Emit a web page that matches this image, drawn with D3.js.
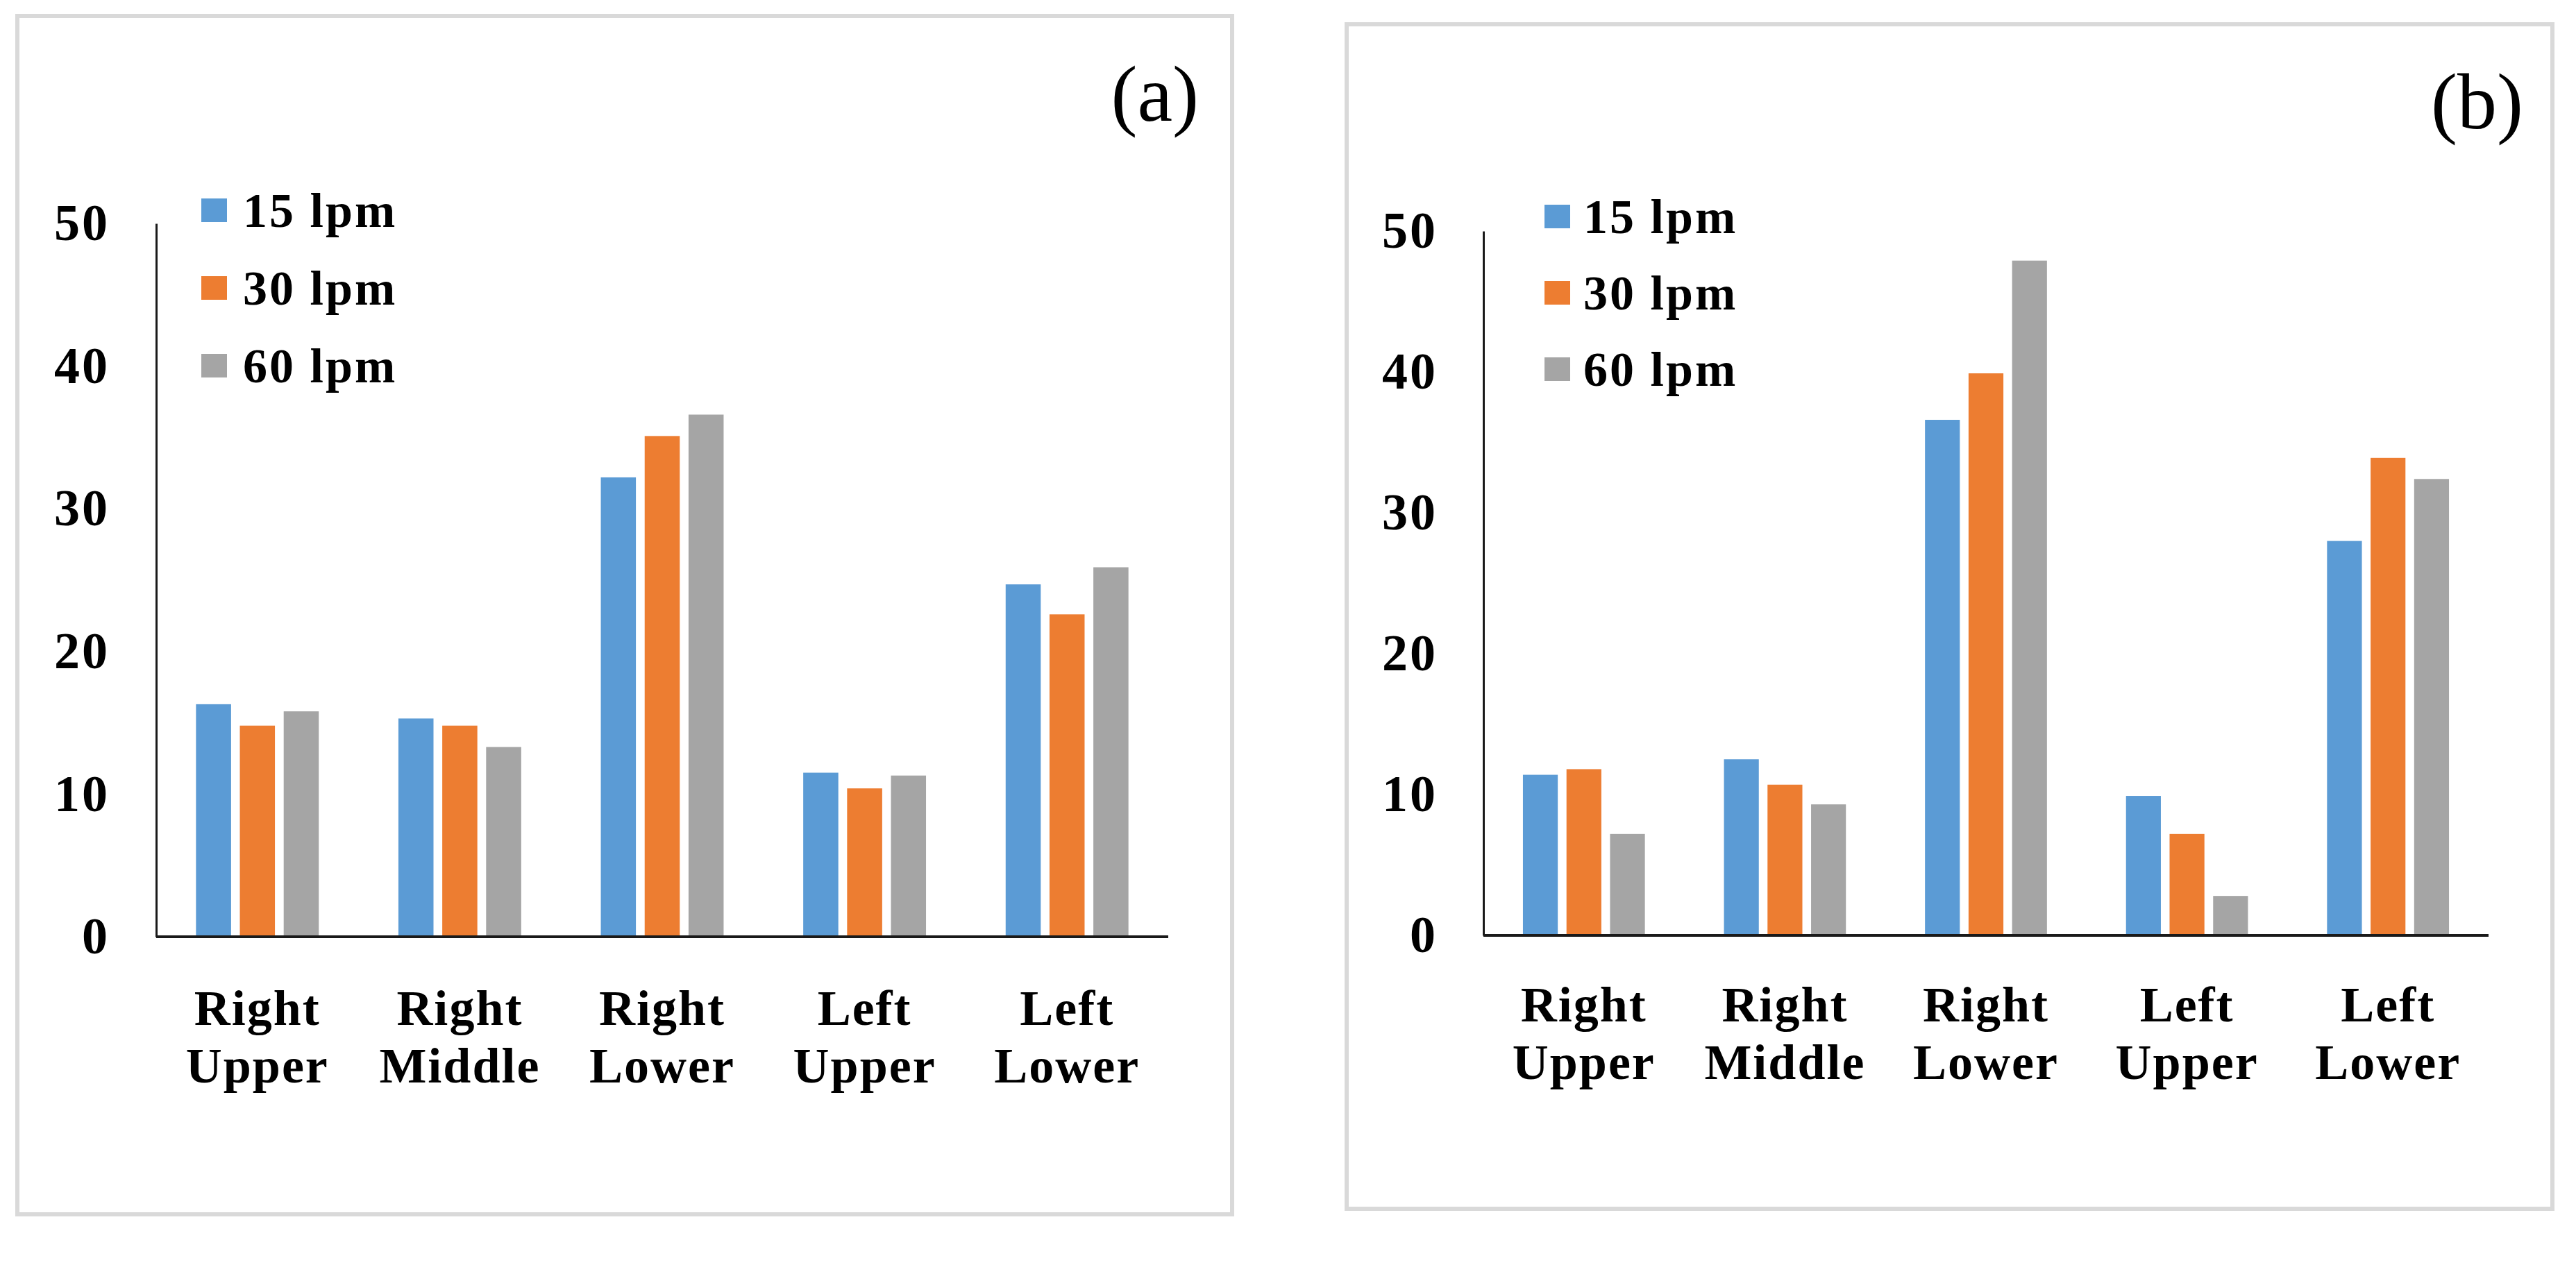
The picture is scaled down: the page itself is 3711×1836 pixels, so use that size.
<!DOCTYPE html>
<html>
<head>
<meta charset="utf-8">
<script src="https://cdn.jsdelivr.net/npm/d3@7"></script>
<style>
  html, body { margin: 0; padding: 0; background: #ffffff; }
  svg { display: block; }
</style>
</head>
<body>
<svg id="chart" width="3711" height="1836"></svg>
<script>
// ---------- DATA ----------
const categories = [["Right", "Upper"], ["Right", "Middle"], ["Right", "Lower"], ["Left", "Upper"], ["Left", "Lower"]];
const seriesNames = ["15 lpm", "30 lpm", "60 lpm"];
const yTicks = [0, 10, 20, 30, 40, 50];
const panelLabels = ["(a)", "(b)"];

// Panel (a)
const a15 = [16.3, 15.3, 32.2, 11.5, 24.7];
const a30 = [14.8, 14.8, 35.1, 10.4, 22.6];
const a60 = [15.8, 13.3, 36.6, 11.3, 25.9];
// Panel (b)
const b15 = [11.4, 12.5, 36.6, 9.9, 28.0];
const b30 = [11.8, 10.7, 39.9, 7.2, 33.9];
const b60 = [7.2, 9.3, 47.9, 2.8, 32.4];

const colors = ["#5B9BD5", "#ED7D31", "#A5A5A5"];

// ---------- LAYOUT ----------
const panels = [
  { label: panelLabels[0], series: [a15, a30, a60],
    frame: { x: 25, y: 23, w: 1750, h: 1727 },
    axisX: 225, axisRight: 1683, y0: 1350, y50: 322,
    tickRight: 158, labelRight: 1727, labelBase: 174,
    legX: 290, legTextX: 350, legY: [303, 415, 527],
    catBase1: 1477, catBase2: 1560 },
  { label: panelLabels[1], series: [b15, b30, b60],
    frame: { x: 1940, y: 35, w: 1737, h: 1707 },
    axisX: 2137, axisRight: 3585, y0: 1348, y50: 333,
    tickRight: 2071, labelRight: 3635, labelBase: 185,
    legX: 2225, legTextX: 2281, legY: [312, 422, 532],
    catBase1: 1472, catBase2: 1555 }
];

const svg = d3.select("#chart");
const FONT = "'Liberation Serif', 'Times New Roman', serif";

panels.forEach(p => {
  const g = svg.append("g");

  // frame
  g.append("rect")
    .attr("x", p.frame.x).attr("y", p.frame.y)
    .attr("width", p.frame.w).attr("height", p.frame.h)
    .attr("fill", "#ffffff").attr("stroke", "#d9d9d9").attr("stroke-width", 6);

  const catIdx = categories.map((c, i) => i);
  const x0 = d3.scaleBand().domain(catIdx).range([p.axisX, p.axisRight])
    .paddingInner(0.35).paddingOuter(0.175);
  const x1 = d3.scaleBand().domain(d3.range(seriesNames.length)).range([0, x0.bandwidth()])
    .paddingInner(0.2).paddingOuter(0.1);
  const y = d3.scaleLinear().domain([0, 50]).range([p.y0, p.y50]);

  // bars
  p.series.forEach((vals, si) => {
    g.append("g").selectAll("rect")
      .data(vals)
      .join("rect")
      .attr("x", (d, i) => x0(i) + x1(si))
      .attr("width", x1.bandwidth())
      .attr("y", d => y(d))
      .attr("height", d => y(0) - y(d))
      .attr("fill", colors[si]);
  });

  // y axis
  const yAxis = g.append("g")
    .attr("transform", `translate(${p.axisX},0)`)
    .call(d3.axisLeft(y).tickValues(yTicks).tickSize(0).tickSizeOuter(0).tickPadding(p.axisX - p.tickRight));
  yAxis.select(".domain").attr("stroke", "#1a1a1a").attr("stroke-width", 3);
  yAxis.selectAll("text")
    .attr("font-family", FONT).attr("font-weight", "bold")
    .attr("font-size", 74).attr("letter-spacing", 3).attr("fill", "#000");

  // x axis
  const xAxis = g.append("g")
    .attr("transform", `translate(0,${p.y0})`)
    .call(d3.axisBottom(x0).tickSize(0).tickSizeOuter(0).tickFormat(""));
  xAxis.select(".domain").attr("stroke", "#1a1a1a").attr("stroke-width", 4)
    .attr("d", `M${p.axisX},0H${p.axisRight}`);

  // category labels (two lines)
  const cl = g.append("g");
  categories.forEach((c, i) => {
    const cx = x0(i) + x0.bandwidth() / 2;
    const t = cl.append("text")
      .attr("text-anchor", "middle")
      .attr("font-family", FONT).attr("font-weight", "bold")
      .attr("font-size", 72).attr("letter-spacing", 2).attr("fill", "#000");
    t.append("tspan").attr("x", cx).attr("y", p.catBase1).text(c[0]);
    t.append("tspan").attr("x", cx).attr("y", p.catBase2).text(c[1]);
  });

  // legend
  seriesNames.forEach((name, si) => {
    g.append("rect")
      .attr("x", p.legX).attr("y", p.legY[si] - 17)
      .attr("width", 37).attr("height", 34)
      .attr("fill", colors[si]);
    g.append("text")
      .attr("x", p.legTextX).attr("y", p.legY[si])
      .attr("dominant-baseline", "central")
      .attr("font-family", FONT).attr("font-weight", "bold")
      .attr("font-size", 70).attr("letter-spacing", 3).attr("fill", "#000")
      .text(name);
  });

  // panel label
  g.append("text")
    .attr("x", p.labelRight).attr("y", p.labelBase)
    .attr("text-anchor", "end")
    .attr("font-family", FONT)
    .attr("font-size", 114).attr("fill", "#000")
    .text(p.label);
});
</script>
</body>
</html>
